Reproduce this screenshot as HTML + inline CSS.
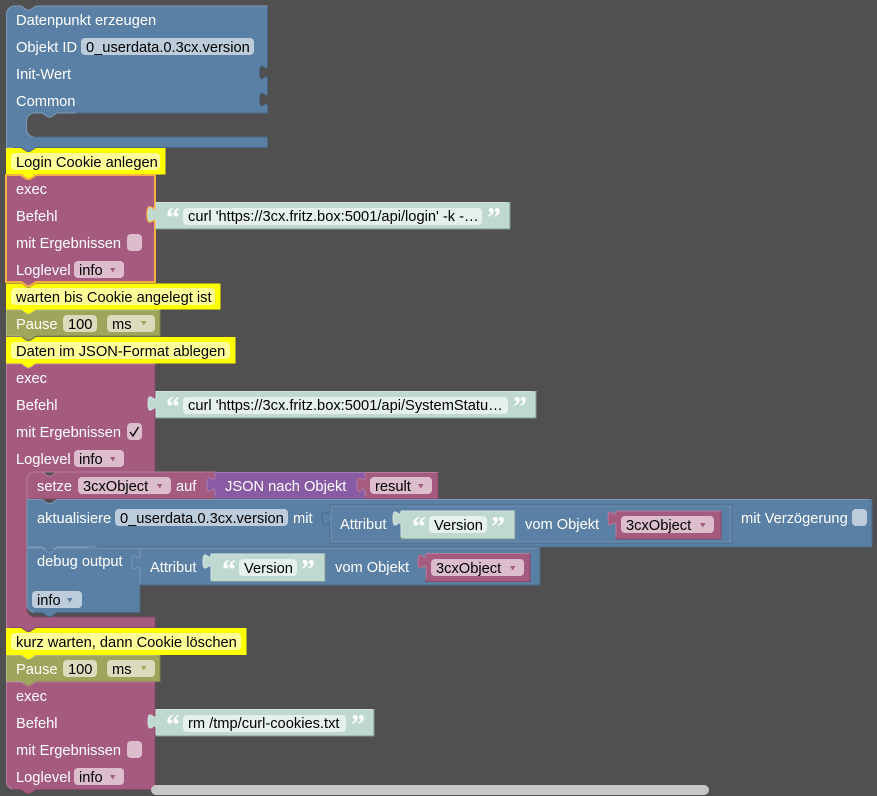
<!DOCTYPE html>
<html><head><meta charset="utf-8"><style>
html,body{margin:0;padding:0;background:#505050;width:877px;height:796px;overflow:hidden}
svg{display:block}
text{font-family:"Liberation Sans",sans-serif;font-size:14.67px;fill:#fff}
.k{fill:#000}
.q{font-family:"Liberation Serif",serif;font-weight:bold;font-size:28px;fill:#fff}
.b{fill:#5b80a5;stroke:url(#sb);stroke-width:1}
.m{fill:#a55b80;stroke:url(#sm);stroke-width:1}
.o{fill:#9fa55b;stroke:url(#so);stroke-width:1}
.y{fill:#ffff00}
.g{fill:#c0d9d0;stroke:url(#sg);stroke-width:1}
.p{fill:#8a5ba5;stroke:url(#sp);stroke-width:1}
.fb{fill:#bdccdb}.fm{fill:#dbbdcc}.fo{fill:#dbdbbd}.fy{fill:#ffff9a}.fg{fill:#e6f0ec}
.ab{fill:#5b80a5}.am{fill:#a55b80}.ao{fill:#9fa55b}
</style></head><body>
<svg width="877" height="796" viewBox="0 0 877 796" xmlns="http://www.w3.org/2000/svg">
<defs>
<linearGradient id="sb" x1="0" y1="0" x2="1" y2="1"><stop offset="0.5" stop-color="#7c99b7"/><stop offset="0.5" stop-color="#496684"/></linearGradient>
<linearGradient id="sm" x1="0" y1="0" x2="1" y2="1"><stop offset="0.5" stop-color="#b77c99"/><stop offset="0.5" stop-color="#844966"/></linearGradient>
<linearGradient id="so" x1="0" y1="0" x2="1" y2="1"><stop offset="0.5" stop-color="#b2b77c"/><stop offset="0.5" stop-color="#7f8449"/></linearGradient>
<linearGradient id="sg" x1="0" y1="0" x2="1" y2="1"><stop offset="0.5" stop-color="#d3e4de"/><stop offset="0.5" stop-color="#7f9a90"/></linearGradient>
<linearGradient id="sp" x1="0" y1="0" x2="1" y2="1"><stop offset="0.5" stop-color="#a17cb7"/><stop offset="0.5" stop-color="#6e4984"/></linearGradient>
</defs>
<!-- block 1 -->
<path class="b" d="M6.500,14a8,8 0 0 1 8,-8H21l6,4h3l6,-4H267.500V65c0,10 -8,-8 -8,7.500s8,-2.500 8,7.500V92c0,10 -8,-8 -8,7.500s8,-2.500 8,7.500V113H57l-6,4h-3l-6,-4H34.500a8,8 0 0 0 -8,8V129a8,8 0 0 0 8,8H267.500V147.500H36l-6,4h-3l-6,-4H6.500Z"/>
<text x="16" y="25">Datenpunkt erzeugen</text>
<text x="16" y="52">Objekt ID</text>
<rect class="fb" x="81" y="38" width="173" height="17" rx="4"/>
<text class="k" x="86" y="52">0_userdata.0.3cx.version</text>
<text x="16" y="79">Init-Wert</text>
<text x="16" y="106">Common</text>
<!-- yellow 1 -->
<path class="y" d="M6,148H21l6,4h3l6,-4H165.500V174.500H36l-6,4h-3l-6,-4H6Z"/>
<rect class="fy" x="11" y="153" width="149" height="17" rx="4"/>
<text class="k" x="16" y="167">Login Cookie anlegen</text>
<!-- exec 1 -->
<path class="m" d="M6,175H21l6,4h3l6,-4H155V282H36l-6,4h-3l-6,-4H6Z" style="stroke:#f5b041;stroke-width:2"/>
<text x="16" y="194">exec</text>
<text x="16" y="221">Befehl</text>
<text x="16" y="248">mit Ergebnissen</text>
<rect class="fm" x="127" y="234" width="15" height="17" rx="4"/>
<text x="16" y="275">Loglevel</text>
<rect class="fm" x="74" y="261" width="50" height="17" rx="4"/>
<text class="k" x="79" y="275">info</text>
<path class="am" d="M110,268h5.500l-2.750,4.500Z"/>
<path d="M155,207c0,10 -7,-8 -7,7.500s7,-2.500 7,7.500" fill="none" stroke="#f5b041" stroke-width="3.500"/>
<path class="g" d="M156,202.500H510V229H156V222c0,-10 -8,8 -8,-7.500s8,2.500 8,-7.500Z"/>
<path d="M157,207c0,10 -9,-8 -9,7.500s9,-2.500 9,7.500Z" fill="#c0d9d0"/>
<text class="q" x="166" y="227">“</text>
<rect class="fg" x="183" y="208" width="299" height="17" rx="4"/>
<text class="k" x="188" y="221">curl 'https://3cx.fritz.box:5001/api/login' -k -…</text>
<text class="q" x="487" y="227">”</text>
<!-- yellow 2 -->
<path class="y" d="M6,283.500H21l6,4h3l6,-4H220.500V309.500H36l-6,4h-3l-6,-4H6Z"/>
<rect class="fy" x="11" y="288" width="204" height="17" rx="4"/>
<text class="k" x="16" y="302">warten bis Cookie angelegt ist</text>
<!-- pause 1 -->
<path class="o" d="M6.500,310H21l6,4h3l6,-4H160V336H36l-6,4h-3l-6,-4H6.500Z"/>
<text x="16" y="329">Pause</text>
<rect class="fo" x="63" y="315" width="34" height="17" rx="4"/>
<text class="k" x="68" y="329">100</text>
<rect class="fo" x="107" y="315" width="48" height="17" rx="4"/>
<text class="k" x="112" y="329">ms</text>
<path class="ao" d="M141,321h5.500l-2.750,4.500Z"/>
<!-- yellow 3 -->
<path class="y" d="M6,337H21l6,4h3l6,-4H235.500V363.500H36l-6,4h-3l-6,-4H6Z"/>
<rect class="fy" x="11" y="342" width="219" height="17" rx="4"/>
<text class="k" x="16" y="356">Daten im JSON-Format ablegen</text>
<!-- exec 2 -->
<path class="m" d="M6.500,364H21l6,4h3l6,-4H155V472H35a8,8 0 0 0 -8,8V609a8,8 0 0 0 8,8H155V627.500H36l-6,4h-3l-6,-4H6.500Z"/>
<text x="16" y="383">exec</text>
<text x="16" y="410">Befehl</text>
<text x="16" y="437">mit Ergebnissen</text>
<rect class="fm" x="127" y="423" width="15" height="17" rx="4"/>
<path d="M130,432l3,4l5.500,-9" fill="none" stroke="#000" stroke-width="1.300"/>
<text x="16" y="464">Loglevel</text>
<rect class="fm" x="74" y="450" width="50" height="17" rx="4"/>
<text class="k" x="79" y="464">info</text>
<path class="am" d="M110,457h5.500l-2.750,4.500Z"/>
<path class="g" d="M156,391.500H536V418H156V411c0,-10 -8,8 -8,-7.500s8,2.500 8,-7.500Z"/>
<text class="q" x="166" y="416">“</text>
<rect class="fg" x="183" y="397" width="325" height="17" rx="4"/>
<text class="k" x="188" y="410">curl 'https://3cx.fritz.box:5001/api/SystemStatu…</text>
<text class="q" x="513" y="416">”</text>
<!-- setze -->
<path class="m" d="M27,480a8,8 0 0 1 8,-8H42l6,4h3l6,-4H215V499H27Z"/>
<text x="37" y="491">setze</text>
<rect class="fm" x="78" y="477" width="93" height="17" rx="4"/>
<text class="k" x="83" y="491">3cxObject</text>
<path class="am" d="M157,484h5.500l-2.750,4.500Z"/>
<text x="176" y="491">auf</text>
<path class="p" d="M215,472.500H365V499H215V492c0,-10 -8,8 -8,-7.500s8,2.500 8,-7.500Z"/>
<text x="225" y="491">JSON nach Objekt</text>
<path class="m" d="M365,472.500H438V499H365V492c0,-10 -8,8 -8,-7.500s8,2.500 8,-7.500Z"/>
<rect class="fm" x="370" y="477" width="62" height="17" rx="4"/>
<text class="k" x="375" y="491">result</text>
<path class="am" d="M418,484h5.500l-2.750,4.500Z"/>
<!-- aktualisiere -->
<path class="b" d="M27,499.500H42l6,4h3l6,-4H872V547H57l-6,4h-3l-6,-4H27Z"/>
<text x="37" y="523">aktualisiere</text>
<rect class="fb" x="115" y="509" width="173" height="17" rx="4"/>
<text class="k" x="120" y="523">0_userdata.0.3cx.version</text>
<text x="293" y="523">mit</text>
<path d="M330,505H732V543H330V526c0,-10 -8,8 -8,-7.500s8,2.500 8,-7.500Z" fill="#5b80a5" stroke="#486a8c"/>
<path d="M331,506H731V542H331Z" fill="none" stroke="#7392b1"/>
<text x="340" y="529">Attribut</text>
<path class="g" d="M401,511H515V539H401V526c0,-10 -8,8 -8,-7.500s8,2.500 8,-7.500Z"/>
<text class="q" x="412" y="536">“</text>
<rect class="fg" x="429" y="516" width="58" height="17" rx="4"/>
<text class="k" x="434" y="530">Version</text>
<text class="q" x="491" y="536">”</text>
<text x="525" y="529">vom Objekt</text>
<path class="m" d="M616,511H721V539H616V526c0,-10 -8,8 -8,-7.500s8,2.500 8,-7.500Z"/>
<rect class="fm" x="621" y="516" width="93" height="17" rx="4"/>
<text class="k" x="626" y="530">3cxObject</text>
<path class="am" d="M700,523h5.500l-2.750,4.500Z"/>
<text x="741" y="523">mit Verzögerung</text>
<rect class="fb" x="852" y="509" width="15" height="17" rx="4"/>
<!-- debug -->
<path class="b" d="M27,548H42l6,4h3l6,-4H140V612.500H57l-6,4h-3l-6,-4H35a8,8 0 0 1 -8,-8Z"/>
<text x="37" y="566">debug output</text>
<rect class="fb" x="32" y="591" width="50" height="17" rx="4"/>
<text class="k" x="37" y="605">info</text>
<path class="ab" d="M67,598h5.500l-2.750,4.500Z"/>
<path class="b" d="M140,548H540V585H140V570c0,-10 -8,8 -8,-7.500s8,2.500 8,-7.500Z"/>
<text x="150" y="572">Attribut</text>
<path class="g" d="M211,554H325V581.500H211V569c0,-10 -8,8 -8,-7.500s8,2.500 8,-7.500Z"/>
<text class="q" x="222" y="579">“</text>
<rect class="fg" x="239" y="559" width="58" height="17" rx="4"/>
<text class="k" x="244" y="573">Version</text>
<text class="q" x="301" y="579">”</text>
<text x="335" y="572">vom Objekt</text>
<path class="m" d="M426,553.500H530V581.500H426V569c0,-10 -8,8 -8,-7.500s8,2.500 8,-7.500Z"/>
<rect class="fm" x="431" y="559" width="93" height="17" rx="4"/>
<text class="k" x="436" y="573">3cxObject</text>
<path class="am" d="M510,566h5.500l-2.750,4.500Z"/>
<!-- yellow 4 -->
<path class="y" d="M6,628H21l6,4h3l6,-4H246.500V655H36l-6,4h-3l-6,-4H6Z"/>
<rect class="fy" x="11" y="633" width="230" height="17" rx="4"/>
<text class="k" x="16" y="647">kurz warten, dann Cookie löschen</text>
<!-- pause 2 -->
<path class="o" d="M6.500,655.500H21l6,4h3l6,-4H160V681.500H36l-6,4h-3l-6,-4H6.500Z"/>
<text x="16" y="674">Pause</text>
<rect class="fo" x="63" y="660" width="34" height="17" rx="4"/>
<text class="k" x="68" y="674">100</text>
<rect class="fo" x="107" y="660" width="48" height="17" rx="4"/>
<text class="k" x="112" y="674">ms</text>
<path class="ao" d="M141,666h5.500l-2.750,4.500Z"/>
<!-- exec 3 -->
<path class="m" d="M6.500,682H21l6,4h3l6,-4H155V789.500H36l-6,4h-3l-6,-4H14.500a8,8 0 0 1 -8,-8Z"/>
<text x="16" y="701">exec</text>
<text x="16" y="728">Befehl</text>
<text x="16" y="755">mit Ergebnissen</text>
<rect class="fm" x="127" y="741" width="15" height="17" rx="4"/>
<text x="16" y="782">Loglevel</text>
<rect class="fm" x="74" y="768" width="50" height="17" rx="4"/>
<text class="k" x="79" y="782">info</text>
<path class="am" d="M110,775h5.500l-2.750,4.500Z"/>
<path class="g" d="M156,709.500H374V736H156V729c0,-10 -8,8 -8,-7.500s8,2.500 8,-7.500Z"/>
<text class="q" x="166" y="734">“</text>
<rect class="fg" x="183" y="715" width="163" height="17" rx="4"/>
<text class="k" x="188" y="728">rm /tmp/curl-cookies.txt</text>
<text class="q" x="351" y="734">”</text>
<!-- scrollbar -->
<rect x="151" y="785" width="558" height="10" rx="5" fill="#c8c8c8"/>
</svg>
</body></html>
